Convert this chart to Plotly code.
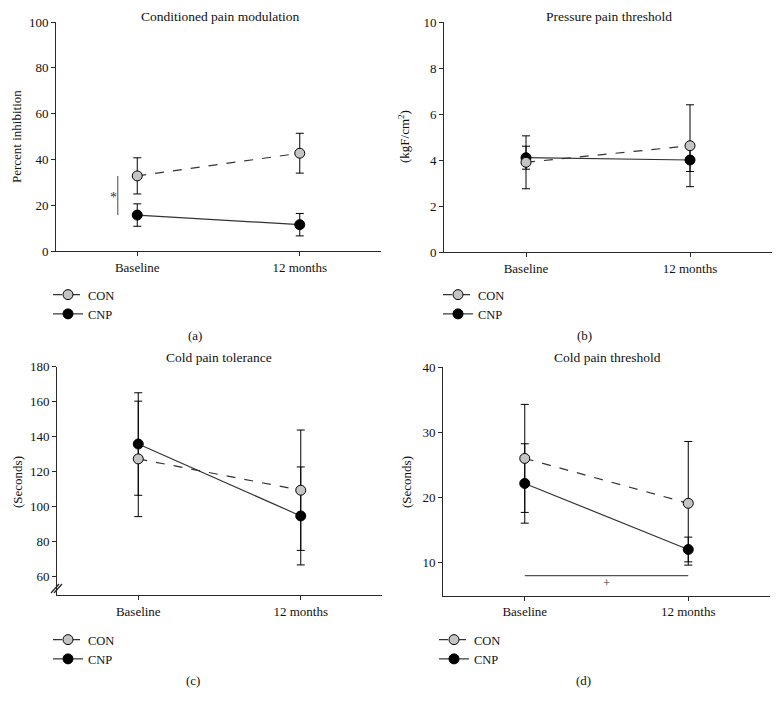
import plotly.graph_objects as go

# ---------------- data ----------------
categories = ["Baseline", "12 months"]
x_pos = [0, 1]

# (a) Conditioned pain modulation (percent inhibition)
a_con = [32.8, 42.7]
a_con_err = [7.9, 8.7]
a_cnp = [15.7, 11.5]
a_cnp_err = [4.9, 4.9]

# (b) Pressure pain threshold (kgF/cm2)
b_con = [3.9, 4.62]
b_con_err = [1.15, 1.78]
b_cnp = [4.1, 4.0]
b_cnp_err = [0.5, 0.5]

# (c) Cold pain tolerance (seconds)
c_con = [127.3, 109.4]
c_con_err = [33.0, 34.4]
c_cnp = [135.8, 94.7]
c_cnp_err = [29.3, 28.0]

# (d) Cold pain threshold (seconds)
d_con = [26.0, 19.1]
d_con_err = [8.3, 9.5]
d_cnp = [22.15, 12.0]
d_cnp_err = [6.1, 1.9]

# significance markers
a_sig = [a_con[0], a_cnp[0]]   # vertical bar at baseline between groups
d_sig_level = 8.0              # horizontal bar for the time effect

panel_titles = ["Conditioned pain modulation", "Pressure pain threshold",
                "Cold pain tolerance", "Cold pain threshold"]
y_titles = ["Percent inhibition", "(kgF/cm<sup>2</sup>)", "(Seconds)", "(Seconds)"]
panel_letters = ["(a)", "(b)", "(c)", "(d)"]

a_ticks = [0, 20, 40, 60, 80, 100]
b_ticks = [0, 2, 4, 6, 8, 10]
c_ticks = [60, 80, 100, 120, 140, 160, 180]
d_ticks = [10, 20, 30, 40]

# ---------------- style ----------------
W, H = 781, 706
OFF = 8  # page offset of the figure in the browser (body margin)
FONT = "Liberation Serif"
AX = "#2a2a2a"
LINE = "#333333"
CON_FILL = "#c4c4c4"


def px(x):
    return (x - OFF) / W


def py(y):
    return 1 - (y - OFF) / H


fig = go.Figure()

panels = [
    dict(n="", con=a_con, con_e=a_con_err, cnp=a_cnp, cnp_e=a_cnp_err, leg="legend"),
    dict(n="2", con=b_con, con_e=b_con_err, cnp=b_cnp, cnp_e=b_cnp_err, leg="legend2"),
    dict(n="3", con=c_con, con_e=c_con_err, cnp=c_cnp, cnp_e=c_cnp_err, leg="legend3"),
    dict(n="4", con=d_con, con_e=d_con_err, cnp=d_cnp, cnp_e=d_cnp_err, leg="legend4"),
]

for p in panels:
    xa = "x" + p["n"]
    ya = "y" + p["n"]
    fig.add_trace(go.Scatter(
        x=x_pos, y=p["cnp"], xaxis=xa, yaxis=ya, name="CNP", legend=p["leg"], legendrank=2,
        mode="lines+markers",
        line=dict(color=LINE, width=1.2, dash="solid"),
        marker=dict(size=10, color="black", line=dict(color="black", width=1)),
        error_y=dict(type="data", array=p["cnp_e"], color="black", thickness=1, width=4),
    ))
    fig.add_trace(go.Scatter(
        x=x_pos, y=p["con"], xaxis=xa, yaxis=ya, name="CON", legend=p["leg"], legendrank=1,
        mode="lines+markers",
        line=dict(color=LINE, width=1.2, dash="dash"),
        marker=dict(size=10, color=CON_FILL, line=dict(color="black", width=1)),
        error_y=dict(type="data", array=p["con_e"], color="black", thickness=1, width=4),
    ))

# significance bar in (a)
fig.add_trace(go.Scatter(x=[-0.12, -0.12], y=a_sig, xaxis="x", yaxis="y", mode="lines",
                         line=dict(color="#666666", width=1.2), showlegend=False, hoverinfo="skip"))
# time-effect bar in (d)
fig.add_trace(go.Scatter(x=x_pos, y=[d_sig_level, d_sig_level], xaxis="x4", yaxis="y4", mode="lines",
                         line=dict(color="#555555", width=1.2), showlegend=False, hoverinfo="skip"))

xcommon = dict(range=[-0.5, 1.5], tickvals=x_pos, ticktext=categories, showline=True,
               linecolor=AX, linewidth=1, ticks="outside", ticklen=4, tickcolor=AX,
               showgrid=False, zeroline=False, tickfont=dict(family=FONT, size=13, color="#111"),
               fixedrange=True)
ycommon = dict(showline=True, linecolor=AX, linewidth=1, ticks="outside", ticklen=4,
               tickcolor=AX, showgrid=False, zeroline=False,
               tickfont=dict(family=FONT, size=13, color="#111"))

fig.update_layout(
    width=W, height=H, margin=dict(l=0, r=0, t=0, b=0, autoexpand=False),
    paper_bgcolor="white", plot_bgcolor="white",
    xaxis=dict(domain=[px(56), px(381)], anchor="y", **xcommon),
    yaxis=dict(domain=[py(251), py(22)], anchor="x", range=[0, 100], tickvals=a_ticks, **ycommon),
    xaxis2=dict(domain=[px(444), px(772)], anchor="y2", **xcommon),
    yaxis2=dict(domain=[py(252), py(22)], anchor="x2", range=[0, 10], tickvals=b_ticks, **ycommon),
    xaxis3=dict(domain=[px(57), px(382)], anchor="y3", **xcommon),
    yaxis3=dict(domain=[py(595), py(366.7)], anchor="x3", range=[49.5, 180], tickvals=c_ticks, **ycommon),
    xaxis4=dict(domain=[px(443), px(770)], anchor="y4", **xcommon),
    yaxis4=dict(domain=[py(595.7), py(367.3)], anchor="x4", range=[4.9, 40], tickvals=d_ticks, **ycommon),
    showlegend=True,
)

legfont = dict(family=FONT, size=12.5, color="#111")
leg_common = dict(xanchor="left", yanchor="top", bgcolor="rgba(0,0,0,0)", font=legfont,
                  itemwidth=30, tracegroupgap=0, borderwidth=0)
fig.update_layout(
    legend=dict(x=px(48), y=py(280), **leg_common),
    legend2=dict(x=px(438), y=py(280), **leg_common),
    legend3=dict(x=px(48), y=py(625), **leg_common),
    legend4=dict(x=px(434), y=py(625), **leg_common),
)

annotations = []
title_pos = [(220, 16.5), (609, 16.5), (219, 357), (607, 357)]
for t, (x, y) in zip(panel_titles, title_pos):
    annotations.append(dict(text=t, x=px(x), y=py(y), xref="paper", yref="paper",
                            showarrow=False, xanchor="center", yanchor="middle", borderpad=0,
                            font=dict(family=FONT, size=13.5, color="#111")))
ytitle_pos = [(17, 137), (404, 137), (17, 482), (406, 482)]
for t, (x, y) in zip(y_titles, ytitle_pos):
    annotations.append(dict(text=t, x=px(x), y=py(y), xref="paper", yref="paper",
                            showarrow=False, xanchor="center", yanchor="middle", textangle=-90,
                            borderpad=0, font=dict(family=FONT, size=13, color="#111")))
letter_pos = [(195, 335), (584, 335), (193, 680), (583, 680)]
for t, (x, y) in zip(panel_letters, letter_pos):
    annotations.append(dict(text=t, x=px(x), y=py(y), xref="paper", yref="paper",
                            showarrow=False, xanchor="center", yanchor="middle",
                            font=dict(family=FONT, size=13, color="#111")))
# significance symbols
annotations.append(dict(text="*", x=-0.145, y=23.5, xref="x", yref="y", showarrow=False,
                        font=dict(family=FONT, size=14, color="#333333")))
annotations.append(dict(text="+", x=0.5, y=6.9, xref="x4", yref="y4", showarrow=False,
                        font=dict(family=FONT, size=13, color="#333333")))
fig.update_layout(annotations=annotations)

# axis break marks on (c)
shapes = []
for off in [0, 3]:
    shapes.append(dict(type="line", xref="paper", yref="paper",
                       x0=px(51 + off), y0=py(593), x1=px(59 + off), y1=py(584),
                       line=dict(color="#222222", width=1.2)))
fig.update_layout(shapes=shapes)

fig.write_html("out.html")
